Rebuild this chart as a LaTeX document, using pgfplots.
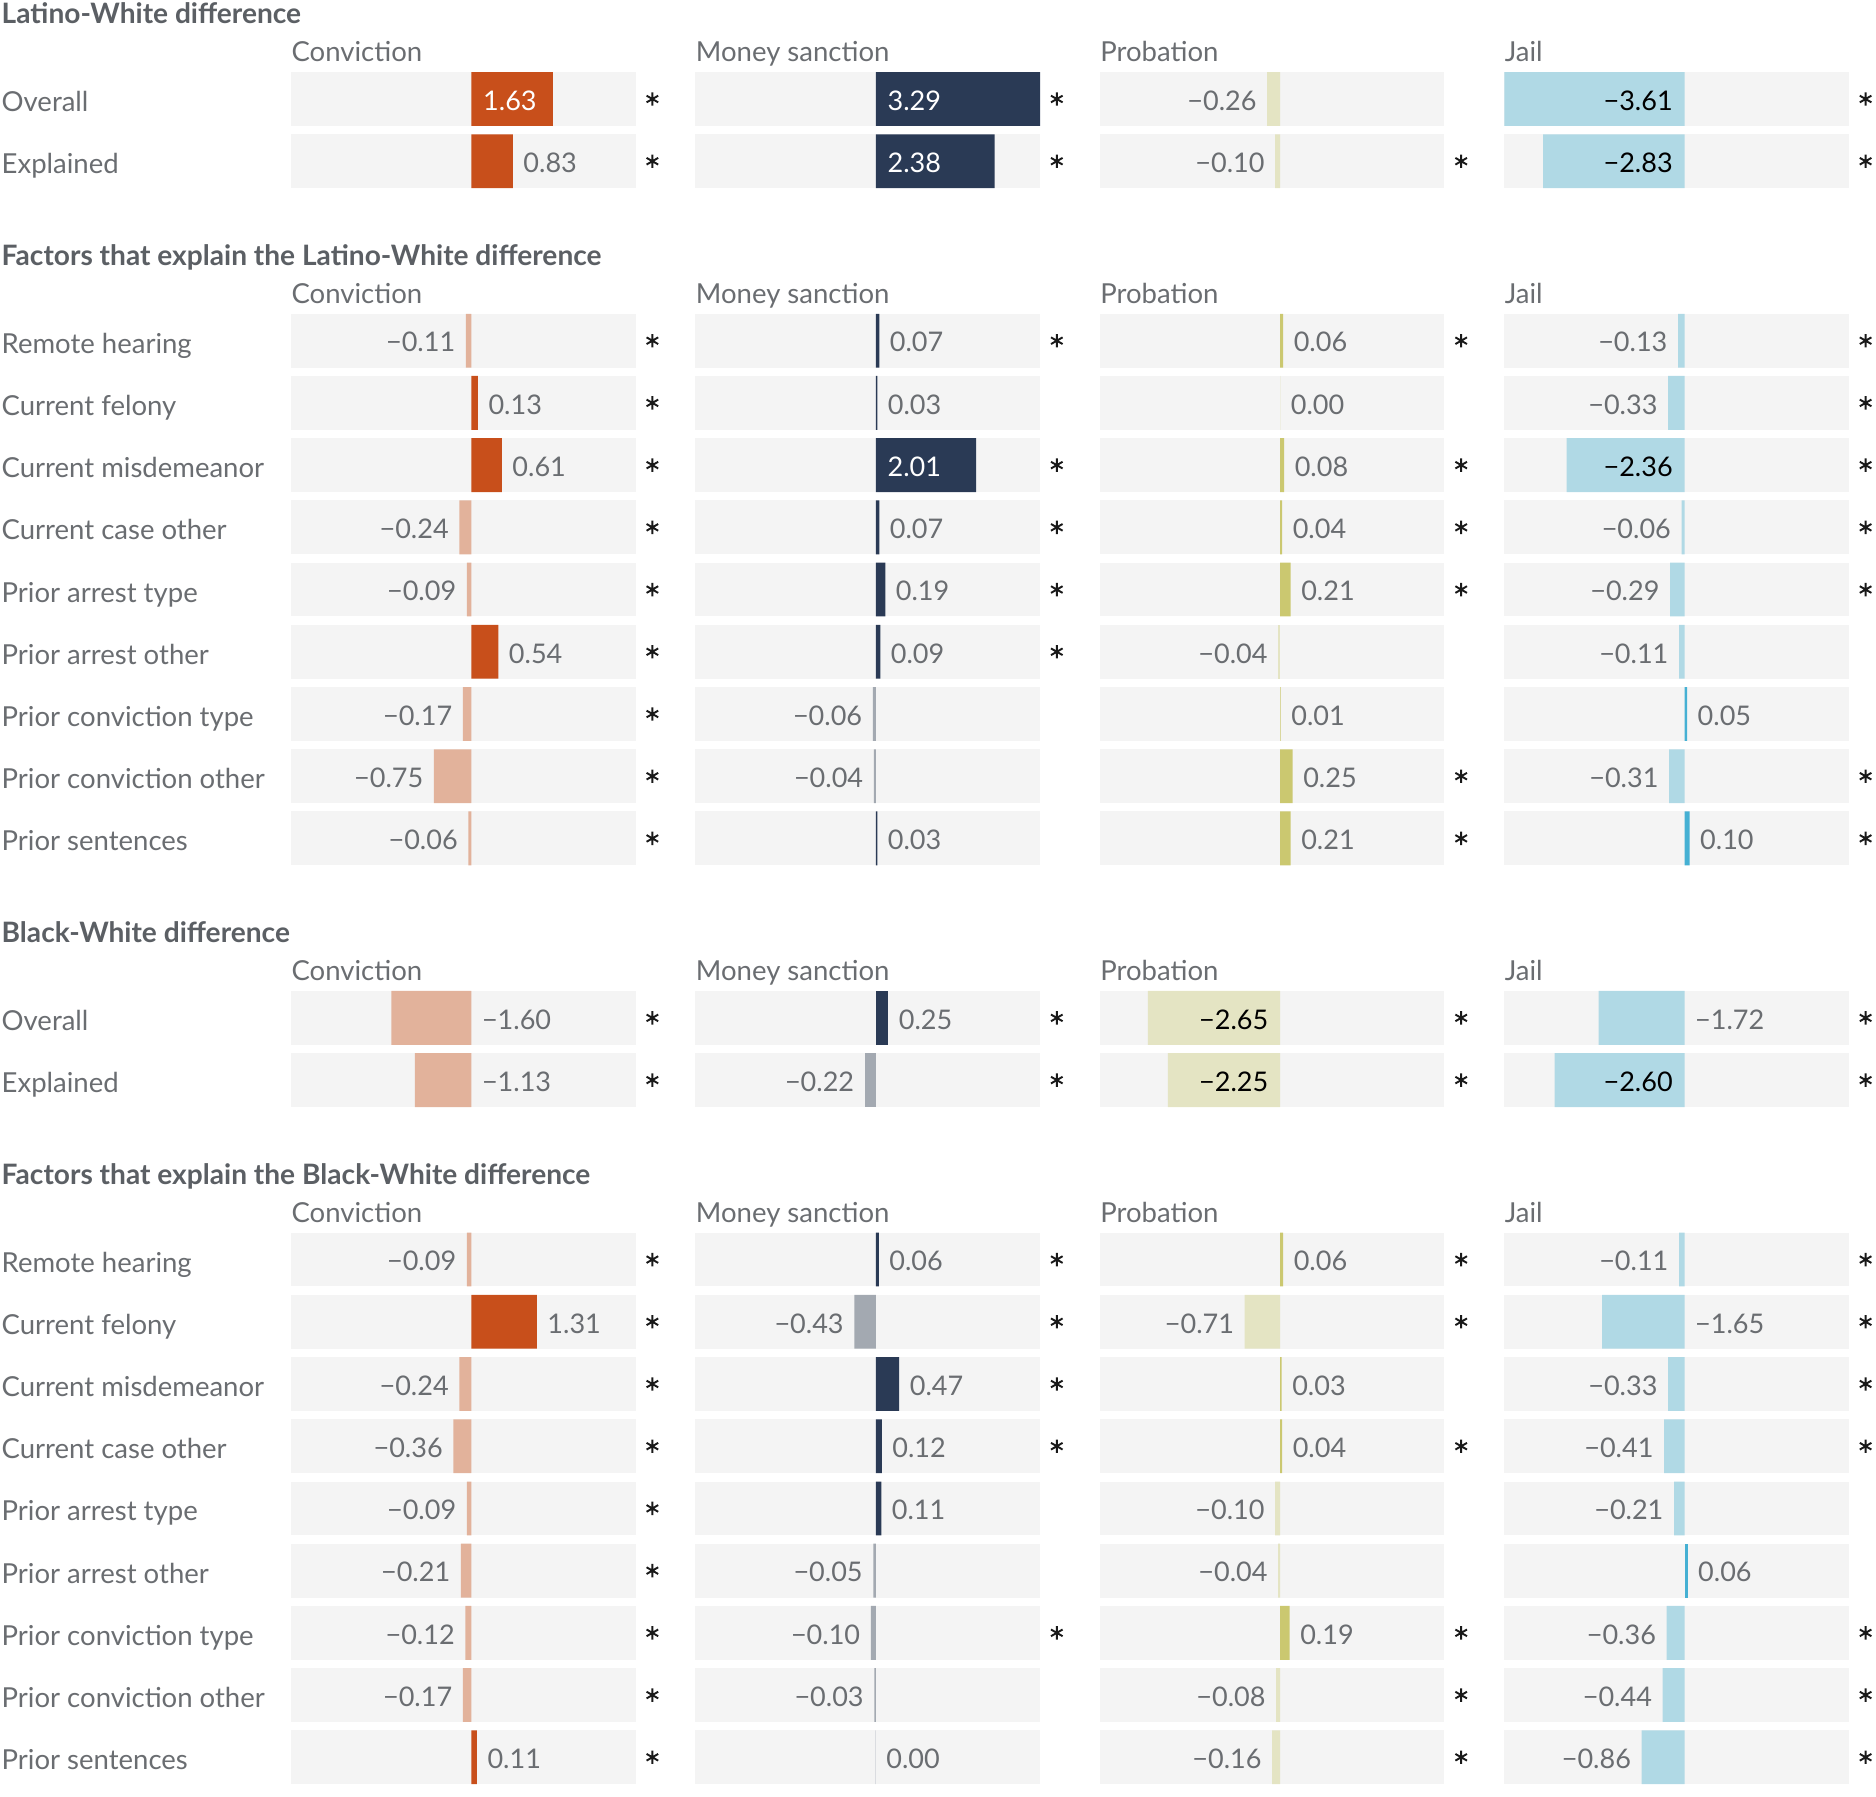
\documentclass[border=0pt]{standalone}
\usepackage{fontspec}
\setmainfont{Lato}
\usepackage{pgfplots}
\usepackage{pgfplotstable}
\pgfplotsset{compat=1.18}

\definecolor{panelbg}{HTML}{F4F4F4}
\definecolor{txt}{HTML}{6A6D71}
\definecolor{ttl}{HTML}{5B5F64}
\definecolor{convpos}{HTML}{C84F1B}
\definecolor{convneg}{HTML}{E2B29B}
\definecolor{monpos}{HTML}{2A3A55}
\definecolor{monneg}{HTML}{A3A9B1}
\definecolor{probpos}{HTML}{CBC870}
\definecolor{probneg}{HTML}{E4E4C3}
\definecolor{jailpos}{HTML}{45B0D3}
\definecolor{jailneg}{HTML}{B0D9E5}

% Columns per outcome (c = conviction, m = money sanction, p = probation, j = jail):
%   v = estimate, m = label placement (0 past the bar end, 1 inside the bar, 2 across zero),
%   s = significant (1) or not (0)
\pgfplotstableread{
r cv cm cs mv mm ms pv pm ps jv jm js
0 1.63 1 1 3.29 1 1 -0.26 0 0 -3.61 1 1
1 0.83 0 1 2.38 1 1 -0.10 0 1 -2.83 1 1
}\latinodiff

\pgfplotstableread{
r cv cm cs mv mm ms pv pm ps jv jm js
0 -0.11 0 1 0.07 0 1 0.06 0 1 -0.13 0 1
1 0.13 0 1 0.03 0 0 0.00 0 0 -0.33 0 1
2 0.61 0 1 2.01 1 1 0.08 0 1 -2.36 1 1
3 -0.24 0 1 0.07 0 1 0.04 0 1 -0.06 0 1
4 -0.09 0 1 0.19 0 1 0.21 0 1 -0.29 0 1
5 0.54 0 1 0.09 0 1 -0.04 0 0 -0.11 0 0
6 -0.17 0 1 -0.06 0 0 0.01 0 0 0.05 0 0
7 -0.75 0 1 -0.04 0 0 0.25 0 1 -0.31 0 1
8 -0.06 0 1 0.03 0 0 0.21 0 1 0.10 0 1
}\latinofactors

\pgfplotstableread{
r cv cm cs mv mm ms pv pm ps jv jm js
0 -1.60 2 1 0.25 0 1 -2.65 1 1 -1.72 2 1
1 -1.13 2 1 -0.22 0 1 -2.25 1 1 -2.60 1 1
}\blackdiff

\pgfplotstableread{
r cv cm cs mv mm ms pv pm ps jv jm js
0 -0.09 0 1 0.06 0 1 0.06 0 1 -0.11 0 1
1 1.31 0 1 -0.43 0 1 -0.71 0 1 -1.65 2 1
2 -0.24 0 1 0.47 0 1 0.03 0 0 -0.33 0 1
3 -0.36 0 1 0.12 0 1 0.04 0 1 -0.41 0 1
4 -0.09 0 1 0.11 0 0 -0.10 0 0 -0.21 0 0
5 -0.21 0 1 -0.05 0 0 -0.04 0 0 0.06 0 0
6 -0.12 0 1 -0.10 0 1 0.19 0 1 -0.36 0 1
7 -0.17 0 1 -0.03 0 0 -0.08 0 1 -0.44 0 1
8 0.11 0 1 0.00 0 0 -0.16 0 1 -0.86 0 1
}\blackfactors

\pgfkeys{/pgf/number format/.cd, fixed, fixed zerofill, precision=2, assume math mode=true}

% value label with a true minus sign
\newcommand\vallabel{%
  \pgfmathfloatifflags{\pgfplotspointmeta}{2}%
    {\pgfmathfloattomacro{\pgfplotspointmeta}{\vF}{\vM}{\vE}%
     \pgfmathfloatcreate{1}{\vM}{\vE}%
     \char"2212\relax\pgfmathprintnumber{\pgfmathresult}}%
    {\pgfmathprintnumber{\pgfplotspointmeta}}}

\pgfplotsset{
  panel/.style={anchor=north west, scale only axis, width=144pt,
    xmin=-3.61, xmax=3.29, ymin=-0.5, y dir=reverse, hide axis, clip=false},
  vlabel/.style={draw=none, mark=none, point meta=explicit, nodes near coords=\vallabel,
    nodes near coords style={inner sep=0pt, yshift=-4.7pt,
      font=\fontsize{11.3}{13.5}\selectfont, #1}},
  hbar/.style={xbar, bar shift=0pt, bar width=22.5pt, draw=none, fill=#1},
}

% one outcome panel: table, column prefix, positive colour, negative colour, left, top
\newcommand\panel[6]{%
\begin{axis}[panel, at={(#5,#6)}, height=\axh, ymax=\lastrow+0.5]
  \pgfplotsinvokeforeach{0,...,\lastrow}{%
    \fill[panelbg] (axis cs:-3.61,##1-0.4327) rectangle (axis cs:3.29,##1+0.4327);}
  \addplot[hbar=#3] table[y=r, x expr={\thisrow{#2v}>=0 ? \thisrow{#2v} : nan}] {#1};
  \addplot[hbar=#4] table[y=r, x expr={\thisrow{#2v}<0 ? \thisrow{#2v} : nan}] {#1};
  \addplot[vlabel={anchor=base west, xshift=4.25pt, text=txt}]
    table[y=r, meta=#2v, x expr={(\thisrow{#2m}==0 && \thisrow{#2v}>=0) ? \thisrow{#2v} : nan}] {#1};
  \addplot[vlabel={anchor=base east, xshift=-4.25pt, text=txt}]
    table[y=r, meta=#2v, x expr={(\thisrow{#2m}==0 && \thisrow{#2v}<0) ? \thisrow{#2v} : nan}] {#1};
  \addplot[vlabel={anchor=base west, xshift=4.75pt, text=white}]
    table[y=r, meta=#2v, x expr={(\thisrow{#2m}==1 && \thisrow{#2v}>=0) ? 0 : nan}] {#1};
  \addplot[vlabel={anchor=base east, xshift=-4.75pt, text=black}]
    table[y=r, meta=#2v, x expr={(\thisrow{#2m}==1 && \thisrow{#2v}<0) ? 0 : nan}] {#1};
  \addplot[vlabel={anchor=base west, xshift=4.25pt, text=txt}]
    table[y=r, meta=#2v, x expr={(\thisrow{#2m}==2 && \thisrow{#2v}<0) ? 0 : nan}] {#1};
  \addplot[only marks, mark=asterisk, mark size=2.8pt,
    mark options={line width=0.8pt, draw=black!90}]
    table[y=r, x expr={\thisrow{#2s}>0 ? 3.625 : nan}] {#1};
\end{axis}}

% section: table, top of the first row band (pt)
\newcommand\outcomes[2]{%
  \panel{#1}{c}{convpos}{convneg}{121.65pt}{-#2pt}
  \panel{#1}{m}{monpos}{monneg}{290.65pt}{-#2pt}
  \panel{#1}{p}{probpos}{probneg}{459.65pt}{-#2pt}
  \panel{#1}{j}{jailpos}{jailneg}{628.65pt}{-#2pt}}

% column headings at a baseline (pt)
\newcommand\headings[1]{%
  \node[hd] at (121.65pt,-#1pt) {Conviction};
  \node[hd] at (290.65pt,-#1pt) {Money sanction};
  \node[hd] at (459.65pt,-#1pt) {Probation};
  \node[hd] at (628.65pt,-#1pt) {Jail};}

\begin{document}
\begin{tikzpicture}[font=\fontsize{11.5}{13.8}\selectfont,
  ttlnode/.style={anchor=base west, inner sep=0pt, text=ttl, font=\fontsize{11.75}{14}\selectfont\bfseries},
  hd/.style={anchor=base west, inner sep=0pt, text=txt},
  rowlab/.style={anchor=base west, inner sep=0pt, text=txt}]
\useasboundingbox (0,0) rectangle (784pt,-750.65pt);

% Latino-White difference
\node[ttlnode] at (0.5pt,-10pt) {Latino-White difference};
\headings{25.75}
\node[rowlab] at (0.5pt,-46.625pt) {Overall};
\node[rowlab] at (0.5pt,-72.625pt) {Explained};
\def\lastrow{1}\def\axh{52pt}
\outcomes{\latinodiff}{28.375}

% Factors behind the Latino-White difference
\node[ttlnode] at (0.5pt,-111pt) {Factors that explain the Latino-White difference};
\headings{126.75}
\foreach \name [count=\i from 0] in {Remote hearing, Current felony, Current misdemeanor,
    Current case other, Prior arrest type, Prior arrest other, Prior conviction type,
    Prior conviction other, Prior sentences}
  \node[rowlab] at (0.5pt,{-(147.625+26*\i)*1pt}) {\name};
\def\lastrow{8}\def\axh{234pt}
\outcomes{\latinofactors}{129.375}

% Black-White difference
\node[ttlnode] at (0.5pt,-394pt) {Black-White difference};
\headings{409.75}
\node[rowlab] at (0.5pt,-430.625pt) {Overall};
\node[rowlab] at (0.5pt,-456.625pt) {Explained};
\def\lastrow{1}\def\axh{52pt}
\outcomes{\blackdiff}{412.375}

% Factors behind the Black-White difference
\node[ttlnode] at (0.5pt,-495pt) {Factors that explain the Black-White difference};
\headings{510.75}
\foreach \name [count=\i from 0] in {Remote hearing, Current felony, Current misdemeanor,
    Current case other, Prior arrest type, Prior arrest other, Prior conviction type,
    Prior conviction other, Prior sentences}
  \node[rowlab] at (0.5pt,{-(531.625+26*\i)*1pt}) {\name};
\def\lastrow{8}\def\axh{234pt}
\outcomes{\blackfactors}{513.375}
\end{tikzpicture}
\end{document}
